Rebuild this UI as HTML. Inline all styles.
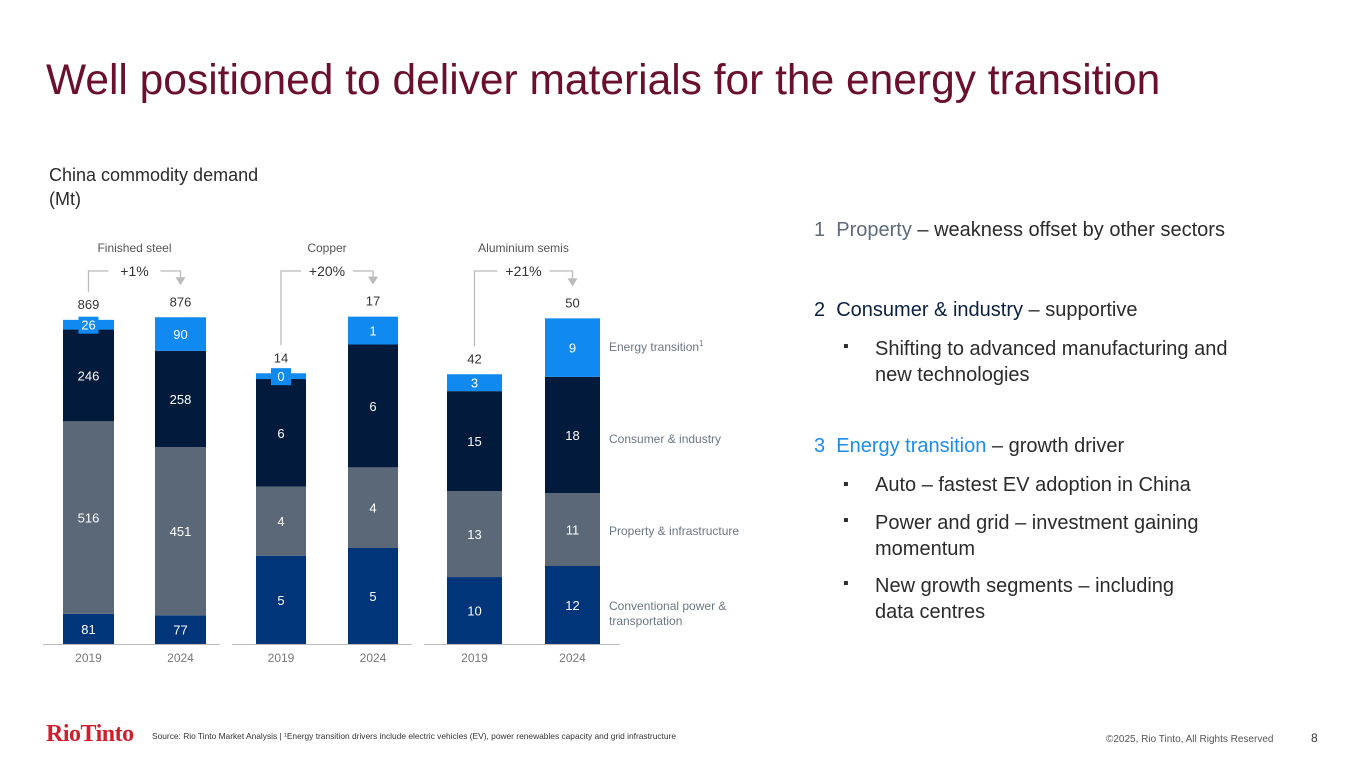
<!DOCTYPE html>
<html><head><meta charset="utf-8"><style>
body{margin:0;width:1365px;height:768px;background:#fff;position:relative;overflow:hidden;font-family:"Liberation Sans",sans-serif}
.a{position:absolute;white-space:nowrap}
.r{font-size:20px;color:#2b2b2b}
.b{position:absolute;left:843px;font-size:16px;color:#2b2b2b}
.lg{position:absolute;left:609px;font-size:12px;color:#6b7785;line-height:15px}
</style></head><body>
<div class="a" style="left:46px;top:57px;font-size:42.5px;color:#6a0f2e">Well positioned to deliver materials for the energy transition</div>
<div class="a" style="left:49px;top:163px;font-size:18px;line-height:24px;color:#2b2b2b">China commodity demand<br>(Mt)</div>
<svg class="a" style="left:0;top:0" width="1365" height="768" id="chart"></svg>
<div class="lg" style="top:336px">Energy transition<sup style="font-size:8px">1</sup></div>
<div class="lg" style="top:432px">Consumer &amp; industry</div>
<div class="lg" style="top:524px">Property &amp; infrastructure</div>
<div class="lg" style="top:599px">Conventional power &amp;<br>transportation</div>

<div class="a r" style="left:814px;top:219px"><span style="color:#5d6b7d">1&nbsp; Property</span> – weakness offset by other sectors</div>
<div class="a r" style="left:814px;top:299px"><span style="color:#0b1f3f">2&nbsp; Consumer &amp; industry</span> – supportive</div>
<div class="b" style="top:338px">▪</div>
<div class="a r" style="left:875px;top:336px;line-height:26px">Shifting to advanced manufacturing and<br>new technologies</div>
<div class="a r" style="left:814px;top:435px"><span style="color:#1a8cf0">3&nbsp; Energy transition</span> – growth driver</div>
<div class="b" style="top:476px">▪</div>
<div class="a r" style="left:875px;top:474px">Auto – fastest EV adoption in China</div>
<div class="b" style="top:512px">▪</div>
<div class="a r" style="left:875px;top:510px;line-height:26px">Power and grid – investment gaining<br>momentum</div>
<div class="b" style="top:575px">▪</div>
<div class="a r" style="left:875px;top:573px;line-height:26px">New growth segments – including<br>data centres</div>

<div class="a" style="left:46px;top:721px;font-family:'Liberation Serif',serif;font-size:24px;font-weight:bold;color:#d0202e;letter-spacing:-0.5px">RioTinto</div>
<div class="a" style="left:152px;top:731px;font-size:8.4px;color:#333">Source: Rio Tinto Market Analysis | ¹Energy transition drivers include electric vehicles (EV), power renewables capacity and grid infrastructure</div>
<div class="a" style="left:1106px;top:734px;font-size:10px;color:#555">©2025, Rio Tinto, All Rights Reserved</div>
<div class="a" style="left:1311px;top:731px;font-size:12px;color:#333">8</div>
<script>
const commodities=["Finished steel","Copper","Aluminium semis"];
const years=["2019","2024"];
const conventional=[[81,77],[4.6,5.0],[10.3,12]];
const property=[[516,451],[3.6,4.2],[13.2,11.2]];
const consumer=[[246,258],[5.6,6.4],[15.4,17.9]];
const energy=[[26,90],[0.3,1.45],[2.6,9]];
const segLabels=[[["81","516","246","26"],["77","451","258","90"]],[["5","4","6","0"],["5","4","6","1"]],[["10","13","15","3"],["12","11","18","9"]]];
const totals=[["869","876"],["14","17"],["42","50"]];
const growth=["+1%","+20%","+21%"];
const scales=[0.373,19.2,6.5];
const colors=["#00357a","#5b6878","#021a3b","#1089f0"];
const svg=document.getElementById('chart');const NS="http://www.w3.org/2000/svg";
function mk(t,a,txt){const e=document.createElementNS(NS,t);for(const k in a)e.setAttribute(k,a[k]);if(txt!==undefined)e.textContent=txt;svg.appendChild(e);return e;}
const base=644, groupX=[63,256,447], gap=[92,92,98], bw=[51,50,55], axis=[[43,220],[232,412],[424,620]];
commodities.forEach((c,g)=>{
  const ax=mk('line',{x1:axis[g][0],x2:axis[g][1],y1:base+.5,y2:base+.5,stroke:'#bbb','stroke-width':1});
  
  const tt=mk('text',{x:(groupX[g]+groupX[g]+gap[g]+bw[g])/2,y:252,'text-anchor':'middle','font-size':12,fill:'#555'},c);
  
  const tops=[],cx=[];
  years.forEach((yr,i)=>{
    const x=groupX[g]+i*gap[g], w=bw[g]; cx.push(x+w/2);
    let y=base;const vals=[conventional[g][i],property[g][i],consumer[g][i],energy[g][i]];
    vals.forEach((v,s)=>{
      const h=v*scales[g];y-=h;
      const r=mk('rect',{x:x,y:y,width:w,height:h,fill:colors[s]});
      
      const ly=y+h/2+5;
      if(h<14){const bg=mk('rect',{x:x+w/2-10,y:ly-13,width:20,height:17,fill:colors[s]});}
      const lb=mk('text',{x:x+w/2,y:ly,'text-anchor':'middle','font-size':13,fill:'#fff'},segLabels[g][i][s]);
      
    });
    tops.push(y);
    const tl=mk('text',{x:x+w/2,y:y-11,'text-anchor':'middle','font-size':13,fill:'#333'},totals[g][i]);
    
    const yl=mk('text',{x:x+w/2,y:662,'text-anchor':'middle','font-size':12,fill:'#777'},yr);
    
  });
  const yTop=271, y0=tops[0]-28, y1=tops[1]-33;
  const br=mk('path',{d:`M${cx[0]} ${y0} V${yTop} H${cx[1]} V${y1-5}`,fill:'none',stroke:'#bbb','stroke-width':1.3});
  
  const ar=mk('path',{d:`M${cx[1]-5} ${y1-7} L${cx[1]+5} ${y1-7} L${cx[1]} ${y1+1}Z`,fill:'#bbb'});
  
  const mx=(cx[0]+cx[1])/2;
  const bg=mk('rect',{x:mx-26,y:yTop-10,width:52,height:20,fill:'#fff'});
  
  const gl=mk('text',{x:mx,y:yTop+5,'text-anchor':'middle','font-size':14,fill:'#333'},growth[g]);
  
});
</script>
</body></html>
